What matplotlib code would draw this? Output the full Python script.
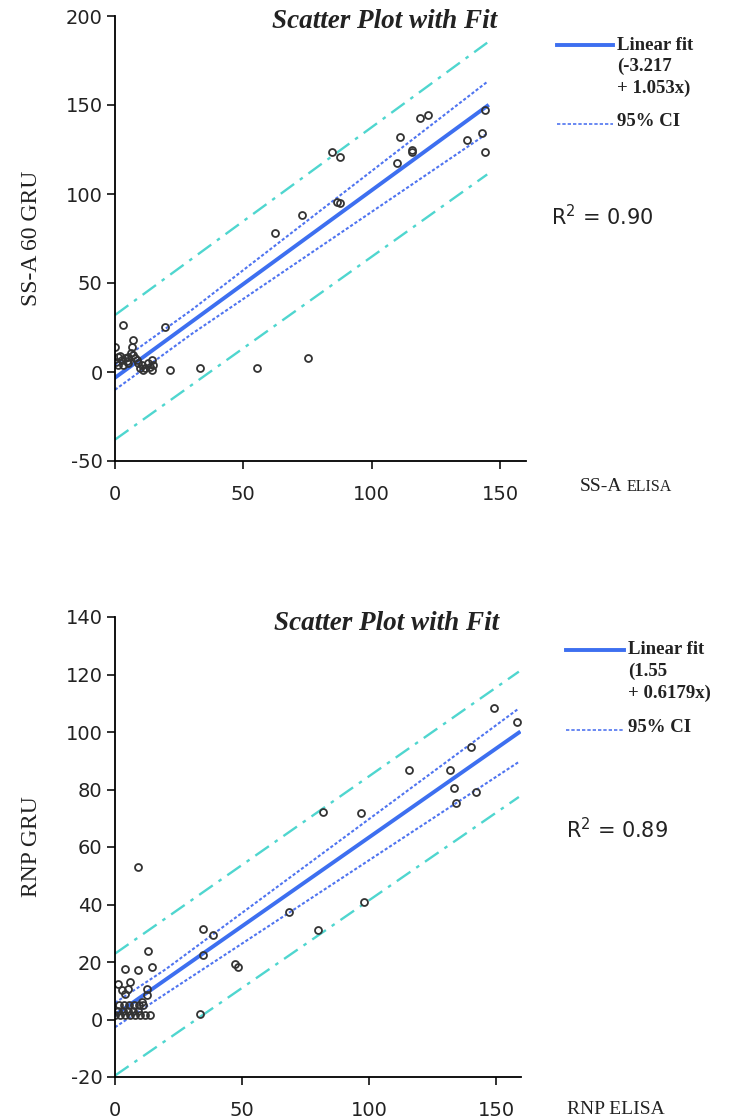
import numpy as np
import matplotlib
matplotlib.use("Agg")
import matplotlib.pyplot as plt
from matplotlib.lines import Line2D

plt.rcParams["axes.unicode_minus"] = False

# ---- panel 1: SS-A ----
ssa_x = [144.1, 118.8, 122.0, 111.0, 142.8, 137.0, 115.6, 115.6, 109.7, 144.1,
         84.4, 87.7, 86.4, 87.7, 72.7, 62.3, 75.3, 55.2, 33.1, 21.4, 19.5, 3.2,
         0.0, 7.1, 6.5, 1.3, 2.6, 3.9, 5.2, 6.2, 7.1, 8.4, 9.1, 10.4, 11.7, 13.0,
         14.3, 14.9, 1.3, 3.2, 5.2, 7.8, 9.7, 11.0, 13.6, 14.3, 0.5, 2.0, 4.5]
ssa_y = [147.2, 142.5, 144.4, 132.2, 134.1, 130.3, 124.7, 123.8, 117.2, 123.8,
         123.8, 121.0, 95.7, 94.8, 88.2, 77.9, 7.7, 2.1, 2.1, 1.1, 25.5, 26.4,
         14.2, 18.0, 14.2, 8.6, 6.7, 7.7, 8.6, 10.5, 9.6, 6.7, 4.9, 3.9, 2.1, 4.9,
         6.7, 3.9, 3.9, 3.9, 4.9, 7.7, 2.1, 1.1, 3.0, 1.1, 5.5, 9.0, 6.0]
ssa_fit = (-3.217, 1.053)
ssa_ci_x = [0, 30, 145]
ssa_ci_up = [4, 35, 163]
ssa_ci_lo = [-10, 21.5, 134]
ssa_pi_x = [0, 145]
ssa_pi_up = [32, 185]
ssa_pi_lo = [-38, 111]
ssa_r2 = "0.90"

# ---- panel 2: RNP ----
rnp_x = [149.2, 158.4, 140.0, 115.9, 132.0, 133.5, 142.0, 134.1, 81.8, 96.9,
         98.2, 68.6, 79.8, 9.2, 34.6, 38.6, 34.6, 47.2, 48.3, 33.3, 13.1, 3.9,
         9.2, 14.4, 1.3, 5.9, 2.6, 5.2, 3.9, 12.5, 12.5, 10.5, 11.0,
         0.0, 2.0, 3.9, 5.9, 7.9, 9.8, 11.8, 13.8, 1.0, 3.0, 5.0, 7.0, 9.0,
         1.5, 3.5, 5.5, 7.5, 9.5]
rnp_y = [108.2, 103.6, 94.9, 86.7, 86.7, 80.4, 79.2, 75.2, 72.3, 71.7,
         40.9, 37.5, 31.0, 53.1, 31.6, 29.3, 22.3, 19.4, 18.2, 2.0, 24.0, 17.7,
         17.1, 18.2, 12.4, 13.0, 10.1, 10.7, 9.0, 10.7, 8.4, 6.0, 5.0,
         1.4, 1.4, 1.4, 1.4, 1.4, 1.4, 1.4, 1.4, 3.1, 3.1, 3.1, 3.1, 3.1,
         4.9, 4.9, 4.9, 4.9, 4.9]
rnp_fit = (1.55, 0.6179)
rnp_ci_x = [0, 20, 159]
rnp_ci_up = [5.8, 17.5, 108.2]
rnp_ci_lo = [-2.7, 9.0, 89.6]
rnp_pi_x = [0, 159]
rnp_pi_up = [22.9, 121]
rnp_pi_lo = [-19.5, 77.4]
rnp_r2 = "0.89"

W, H = 729, 1120
fig = plt.figure(figsize=(W / 100, H / 100), dpi=100)

c_fit = "#3d6ff0"
c_ci = "#4f74f0"
c_pi = "#4fd6cf"
serif = "Liberation Serif"
ink = "#222222"


def fx(px):
    return px / W


def fy(py):
    return 1 - py / H


def panel(rect, xs, ys, fit, fit_xmax, ci_x, ci_up, ci_lo, pi_x, pi_up, pi_lo,
          ylim, yticks, ylabel):
    ax = fig.add_axes(rect)
    fx_ = np.array([0, fit_xmax])
    ax.plot(pi_x, pi_up, color=c_pi, lw=1.7, dashes=(7, 3, 1.5, 3))
    ax.plot(pi_x, pi_lo, color=c_pi, lw=1.7, dashes=(7, 3, 1.5, 3))
    ax.plot(ci_x, ci_up, color=c_ci, lw=1.5, ls=(0, (1.5, 1.0)))
    ax.plot(ci_x, ci_lo, color=c_ci, lw=1.5, ls=(0, (1.5, 1.0)))
    ax.plot(fx_, fit[0] + fit[1] * fx_, color=c_fit, lw=2.8)
    ax.plot(xs, ys, "o", ms=5, mfc="none", mec="#333333", mew=1.3)
    ax.set_xlim(0, 160)
    ax.set_ylim(*ylim)
    ax.set_xticks([0, 50, 100, 150])
    ax.set_yticks(yticks)
    for s in ["top", "right"]:
        ax.spines[s].set_visible(False)
    for s in ["left", "bottom"]:
        ax.spines[s].set_linewidth(1.3)
    ax.tick_params(direction="out", length=6, width=1.3, labelsize=14,
                   colors=ink, pad=3)
    ax.tick_params(axis="x", pad=11)
    ax.set_ylabel(ylabel, family=serif, fontsize=17, labelpad=17, color=ink)
    ax.patch.set_alpha(0)
    return ax


ax1 = panel([fx(115), fy(461), (525.7 - 115) / W, (461 - 16) / H],
            ssa_x, ssa_y, ssa_fit, 145, ssa_ci_x, ssa_ci_up, ssa_ci_lo,
            ssa_pi_x, ssa_pi_up, ssa_pi_lo, (-50, 200),
            [-50, 0, 50, 100, 150, 200], "SS-A 60 GRU")
ax2 = panel([fx(115), fy(1077), (521.4 - 115) / W, (1077 - 617) / H],
            rnp_x, rnp_y, rnp_fit, 159, rnp_ci_x, rnp_ci_up, rnp_ci_lo,
            rnp_pi_x, rnp_pi_up, rnp_pi_lo, (-20, 140),
            [-20, 0, 20, 40, 60, 80, 100, 120, 140], "RNP GRU")

# titles
fig.text(fx(497), fy(21), "Scatter Plot with Fit", family=serif, fontsize=19.5,
         weight="bold", style="italic", ha="right", va="center", color=ink)
fig.text(fx(499), fy(623), "Scatter Plot with Fit", family=serif, fontsize=19.5,
         weight="bold", style="italic", ha="right", va="center", color=ink)

# x labels (small caps for ELISA on the first one)
t1 = fig.text(fx(580), fy(491), "SS-A", family=serif, fontsize=14,
              ha="left", va="baseline", color=ink)
fig.canvas.draw()
bb = t1.get_window_extent()
fig.text((bb.x1 + 4) / W, fy(491), "ELISA", family=serif, fontsize=11.5,
         ha="left", va="baseline", color=ink)
fig.text(fx(567), fy(1114), "RNP ELISA", family=serif, fontsize=14,
         ha="left", va="baseline", color=ink)

# R^2
fig.text(fx(551), fy(217), "R$^2$ = " + ssa_r2, fontsize=15, ha="left",
         va="center", color=ink)
fig.text(fx(566), fy(830), "R$^2$ = " + rnp_r2, fontsize=15, ha="left",
         va="center", color=ink)


def legend(x0, x1, ytop, lines, yci):
    fig.add_artist(Line2D([fx(x0), fx(x1)], [fy(ytop), fy(ytop)],
                          color=c_fit, lw=2.8))
    for i, t in enumerate(lines):
        fig.text(fx(x1 + 4), fy(ytop + 21.5 * i), t, family=serif,
                 fontsize=13.5, weight="bold", ha="left", va="center",
                 color=ink)
    fig.add_artist(Line2D([fx(x0), fx(x1)], [fy(yci + 3), fy(yci + 3)],
                          color=c_ci, lw=1.2, ls=(0, (2, 1.2))))
    fig.text(fx(x1 + 4), fy(yci), "95% CI", family=serif, fontsize=13.5,
             weight="bold", ha="left", va="center", color=ink)


legend(557, 613, 45, ["Linear fit", "(-3.217", "+ 1.053x)"], 121)
legend(566, 624, 650, ["Linear fit", "(1.55", "+ 0.6179x)"], 727)

fig.savefig("out.png", dpi=100)
